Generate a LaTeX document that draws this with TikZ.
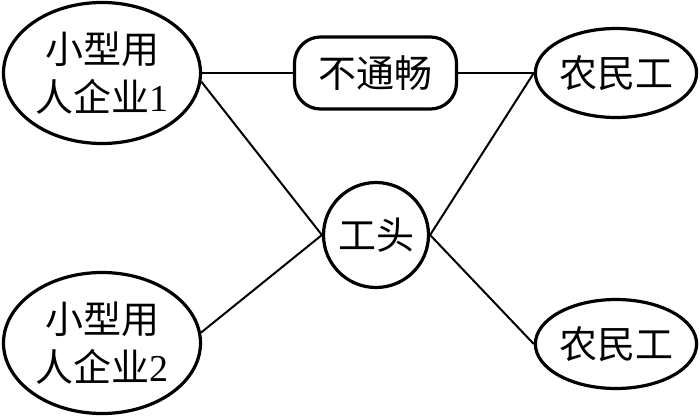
\documentclass[tikz,border=0pt]{standalone}
\usepackage{fontspec}
\setmainfont{Liberation Serif}
\newfontfamily\cjk{Noto Sans CJK SC}
\usetikzlibrary{shapes.geometric}
\begin{document}
\begin{tikzpicture}[
    x=1pt, y=1pt,
    every node/.style={font=\fontsize{38}{48}\selectfont\cjk},
    firm/.style={ellipse, draw, line width=3.2pt, minimum width=197pt, minimum height=141pt, inner sep=0pt, align=center},
    worker/.style={ellipse, draw, line width=3.2pt, minimum width=161pt, minimum height=89pt, inner sep=0pt},
    block/.style={rectangle, draw, rounded corners=26pt, line width=3.2pt, minimum width=162pt, minimum height=72pt},
    boss/.style={circle, draw, line width=3.2pt, minimum size=105pt, inner sep=0pt},
    edge/.style={line width=2pt}
]
\useasboundingbox (0,0) rectangle (700,418);

\node[firm] (e1) at (102,345) {小型用\\人企业{\rmfamily 1}};
\node[firm] (e2) at (102,75) {小型用\\人企业{\rmfamily 2}};
\node[block] (bt) at (375.5,345) {不通畅};
\node[boss] (gt) at (376,183) {工头};
\node[worker] (m1) at (616,345) {农民工};
\node[worker] (m2) at (616,74) {农民工};

\draw[edge] (e1) -- (bt);
\draw[edge] (bt) -- (m1);
\draw[edge] (e1.-5) -- (gt.west);
\draw[edge] (e2.6) -- (gt.west);
\draw[edge] (gt.east) -- (m1.west);
\draw[edge] (gt.east) -- (m2.west);

\end{tikzpicture}
\end{document}
